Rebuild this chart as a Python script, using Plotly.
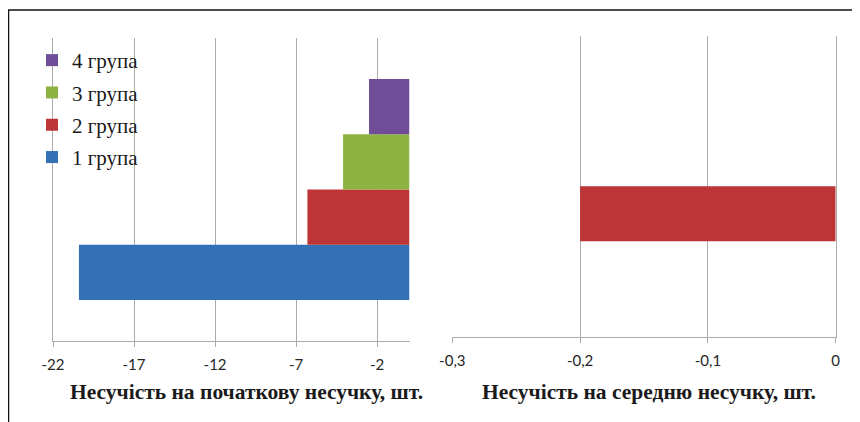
import plotly.graph_objects as go

# ---- data ----
groups = ["1 група", "2 група", "3 група", "4 група"]
initial_values = [-20.4, -6.3, -4.1, -2.5]      # Несучість на початкову несучку, шт.
average_values = [0, -0.2, 0, 0]                # Несучість на середню несучку, шт.
category = ["g"]
colors = ["#3470b5", "#bd3536", "#8db442", "#704e97"]

left_tickvals = [-22, -17, -12, -7, -2]
left_ticktext = ["-22", "-17", "-12", "-7", "-2"]
right_tickvals = [-0.3, -0.2, -0.1, 0]
right_ticktext = ["-0,3", "-0,2", "-0,1", "0"]

left_title = "Несучість на початкову несучку, шт."
right_title = "Несучість на середню несучку, шт."

W, H = 860, 422
OFF = 8  # page body margin


def px(x):
    return (x - OFF) / W


def py(y):
    return 1 - (y - OFF) / H


fig = go.Figure()
for i, g in enumerate(groups):
    fig.add_trace(go.Bar(
        x=[initial_values[i]], y=category, orientation="h", name=g,
        marker=dict(color=colors[i], line=dict(width=0)),
        xaxis="x", yaxis="y", legendgroup=g, legendrank=100 * (len(groups) - i),
        showlegend=True,
    ))
for i, g in enumerate(groups):
    fig.add_trace(go.Bar(
        x=[average_values[i]], y=category, orientation="h", name=g,
        marker=dict(color=colors[i], line=dict(width=0)),
        xaxis="x2", yaxis="y2", showlegend=False,
    ))

grid = "#ababab"
SERIF = "Liberation Serif"
tickfont = dict(family="Lato", size=15, color="#262626")

fig.update_layout(
    width=W, height=H,
    margin=dict(l=0, r=0, t=0, b=0, autoexpand=False),
    paper_bgcolor="white", plot_bgcolor="white",
    barmode="group", bargap=0.27, bargroupgap=0,
    separators=", ",
    xaxis=dict(domain=[px(53), px(409.5)], range=[-22, 0], tickmode="array",
               tickvals=left_tickvals, ticktext=left_ticktext, automargin=False,
               showgrid=True, gridcolor=grid, gridwidth=1, zeroline=False,
               showline=True, linecolor=grid, linewidth=1,
               ticks="outside", ticklen=5, tickcolor=grid, tickwidth=1,
               ticklabelstandoff=5, tickfont=tickfont, anchor="y"),
    yaxis=dict(domain=[py(341), py(38)], range=[-0.5, 0.5], type="category",
               automargin=False,
               showticklabels=False, showgrid=False, zeroline=False,
               showline=True, linecolor=grid, linewidth=1, ticks="", anchor="x"),
    xaxis2=dict(domain=[px(452.3), px(835.7)], range=[-0.3, 0], tickmode="array",
                tickvals=right_tickvals, ticktext=right_ticktext, automargin=False,
                showgrid=True, gridcolor=grid, gridwidth=1, zeroline=False,
                showline=True, linecolor=grid, linewidth=1,
                ticks="outside", ticklen=5, tickcolor=grid, tickwidth=1,
                ticklabelstandoff=5, tickfont=tickfont, anchor="y2"),
    yaxis2=dict(domain=[py(337), py(35.7)], range=[-0.5, 0.5], type="category",
                automargin=False,
                side="right", showticklabels=False, showgrid=False, zeroline=False,
                showline=True, linecolor=grid, linewidth=1,
                ticks="inside", tickson="boundaries", ticklen=5, tickcolor=grid,
                anchor="x2"),
    legend=dict(x=px(32), y=py(40), xanchor="left", yanchor="top",
                traceorder="grouped", tracegroupgap=2,
                bgcolor="rgba(0,0,0,0)", borderwidth=0,
                font=dict(family=SERIF, size=21, color="#1a1a1a")),
    showlegend=True,
    annotations=[
        dict(text="<b>" + left_title + "</b>", xref="paper", yref="paper",
             x=px(246), y=py(392), xanchor="center", yanchor="middle", showarrow=False,
             font=dict(family=SERIF, size=21.5, color="#1a1a1a")),
        dict(text="<b>" + right_title + "</b>", xref="paper", yref="paper",
             x=px(649), y=py(392), xanchor="center", yanchor="middle", showarrow=False,
             font=dict(family=SERIF, size=21.5, color="#1a1a1a")),
    ],
    shapes=[
        dict(type="line", xref="paper", yref="paper", x0=px(8.5), x1=px(8.5), y0=py(440), y1=py(10),
             line=dict(color="#111111", width=1.5)),
        dict(type="line", xref="paper", yref="paper", x0=px(8), x1=px(880), y0=py(10), y1=py(10),
             line=dict(color="#111111", width=1.5)),
    ],
)

fig.write_html("out.html")
